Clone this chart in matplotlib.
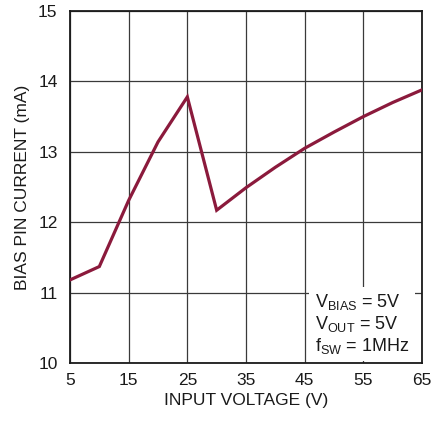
import matplotlib
matplotlib.use("Agg")
import matplotlib.pyplot as plt

# bias pin current vs input voltage
vin = [5, 10, 15, 20, 25, 30, 35, 40, 45, 50, 55, 60, 65]
ibias = [11.18, 11.37, 12.31, 13.14, 13.78, 12.17, 12.49, 12.78, 13.05, 13.28, 13.50, 13.70, 13.88]

xticks = [5, 15, 25, 35, 45, 55, 65]
yticks = [10, 11, 12, 13, 14, 15]

fam = ['Liberation Sans Narrow', 'Liberation Sans', 'DejaVu Sans']
plt.rcParams['font.family'] = fam
plt.rcParams['mathtext.fontset'] = 'custom'
plt.rcParams['mathtext.rm'] = 'Liberation Sans'

fig = plt.figure(figsize=(4.45, 4.21), dpi=100)
ax = fig.add_axes([70 / 445, 58 / 421, 352 / 445, 352 / 421])

ax.plot(vin, ibias, color='#8b1a3c', lw=2.3, solid_joinstyle='miter', zorder=3)

ax.set_xlim(5, 65)
ax.set_ylim(10, 15)
ax.set_xticks(xticks)
ax.set_yticks(yticks)
ax.grid(True, color='#3a3a3a', lw=0.9)
ax.tick_params(length=0, labelsize=12.5, colors='#1a1a1a')
ax.tick_params(axis='y', pad=9)
ax.tick_params(axis='x', pad=7)
for s in ax.spines.values():
    s.set_linewidth(1.3)
    s.set_color('#1a1a1a')

ax.set_xlabel('INPUT VOLTAGE (V)', fontsize=12.5, color='#1a1a1a', labelpad=4)
ax.set_ylabel('BIAS PIN CURRENT (mA)', fontsize=12.5, color='#1a1a1a', labelpad=6)

# condition box
ax.text(0.695, 0.02,
        '$\\mathregular{V_{BIAS}}$ = 5V\n$\\mathregular{V_{OUT}}$ = 5V\n$\\mathregular{f_{SW}}$ = 1MHz',
        transform=ax.transAxes, ha='left', va='bottom', fontsize=13,
        color='#1a1a1a', linespacing=1.12, zorder=4,
        bbox=dict(boxstyle='square,pad=0.3', fc='white', ec='none'))

fig.savefig('out.png', dpi=100)
